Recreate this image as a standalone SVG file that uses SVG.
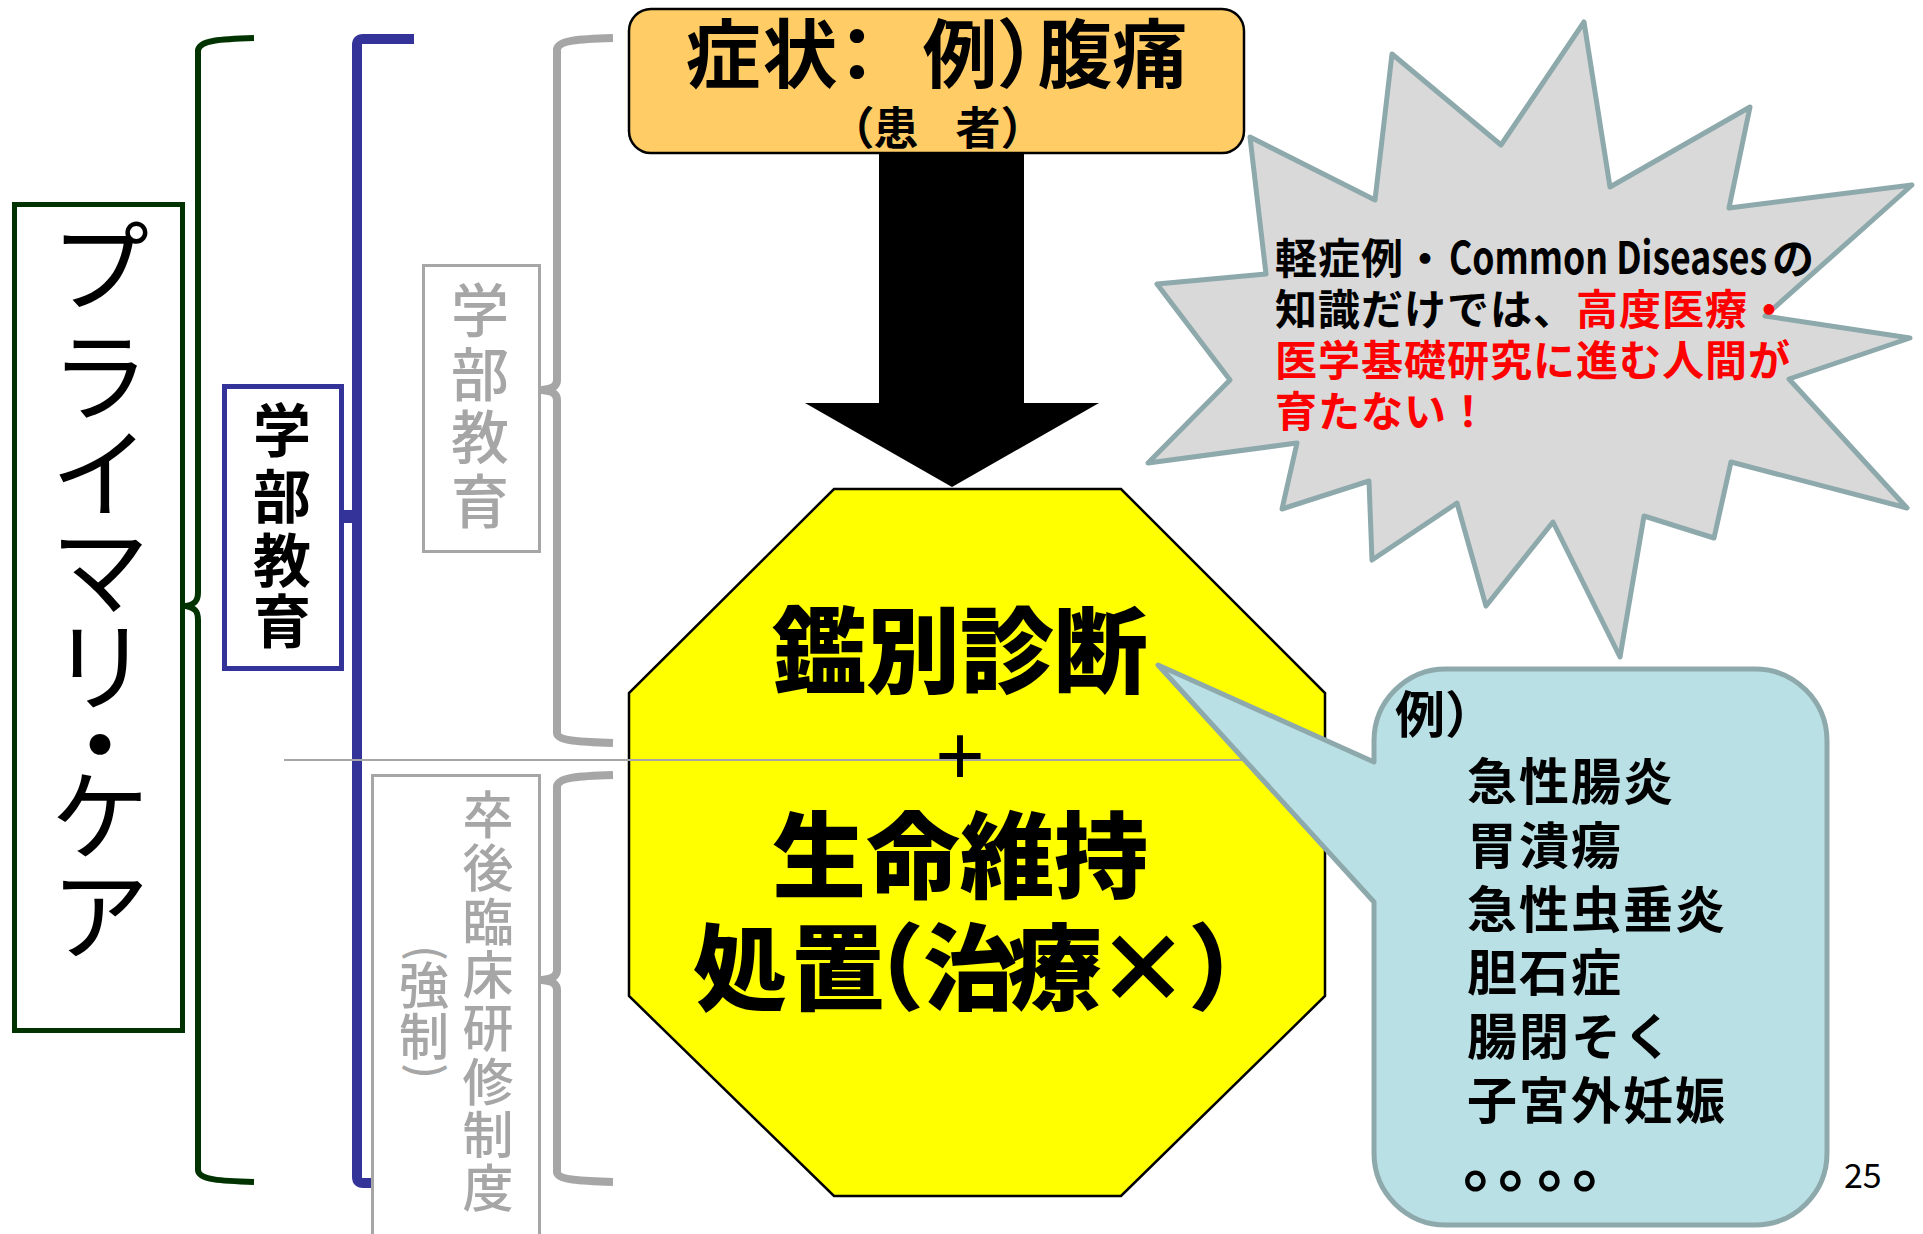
<svg xmlns="http://www.w3.org/2000/svg" width="1923" height="1234" viewBox="0 0 1923 1234">
<style>
text{font-family:'Noto Sans CJK JP','Noto Sans',sans-serif}
.brk{fill:none;stroke-linecap:butt;stroke-linejoin:round}
.gray{stroke:#A6A6A6;stroke-width:8}
.vt{text-anchor:middle}
.blk{fill:#000}
.red{fill:#FF0000}
.oct{font-size:94px;font-weight:900;text-anchor:middle}
.list{font-size:50px;font-weight:700;letter-spacing:2px}
.burst{font-size:42px;font-weight:700;letter-spacing:1px}
</style>
<rect width="1923" height="1234" fill="#FFFFFF"/>

<g id="connectors">
  <path class="brk" d="M254,38 C222,39 198,40 198,51 V592 C198,601 195,604 186,606 C195,608 198,611 198,620 V1170 C198,1180 222,1181 254,1182" stroke="#003300" stroke-width="6"/>
  <path class="brk" d="M414,39 H363 Q357,39 357,45 V1177 Q357,1183 363,1183 H414" stroke="#333399" stroke-width="10"/>
  <rect x="343" y="510" width="14" height="13" fill="#333399"/>
  <path class="brk gray" d="M613,38 C580,39 557,40 557,50 V380 C557,386 553,389 542,390 C553,391 557,394 557,400 V733 C557,741 580,742 613,743"/>
  <path class="brk gray" d="M613,775 C580,776 557,777 557,787 V970 C557,976 553,979 542,980 C553,981 557,984 557,990 V1172 C557,1180 580,1181 613,1182"/>
  <polygon id="arrow" points="879,153 1024,153 1024,403 1099,403 952,487 805,403 879,403" fill="#000000"/>
</g>

<g id="node-primary-care">
  <rect x="14.5" y="204.5" width="168" height="826" fill="#FFFFFF" stroke="#003300" stroke-width="5"/>
  <text class="vt" font-size="98" fill="#000">
    <tspan x="100" y="303">プ</tspan><tspan x="100" y="413">ラ</tspan><tspan x="100" y="510">イ</tspan><tspan x="100" y="607">マ</tspan><tspan x="100" y="703">リ</tspan><tspan x="100" y="781">・</tspan><tspan x="100" y="852">ケ</tspan><tspan x="100" y="952">ア</tspan>
  </text>
</g>

<g id="node-undergrad-blue">
  <rect x="224.5" y="386.5" width="117" height="282" fill="#FFFFFF" stroke="#333399" stroke-width="5"/>
  <text class="vt" font-size="58" font-weight="700" fill="#000">
    <tspan x="282" y="452">学</tspan><tspan x="282" y="518">部</tspan><tspan x="282" y="582">教</tspan><tspan x="282" y="643">育</tspan>
  </text>
</g>

<g id="node-undergrad-gray">
  <rect x="423.5" y="265.5" width="116" height="286" fill="#FFFFFF" stroke="#A6A6A6" stroke-width="3"/>
  <text class="vt" font-size="58" font-weight="500" fill="#A6A6A6">
    <tspan x="480" y="332">学</tspan><tspan x="480" y="396">部</tspan><tspan x="480" y="459">教</tspan><tspan x="480" y="523">育</tspan>
  </text>
</g>

<g id="node-residency">
  <rect x="372.5" y="775.5" width="167" height="470" fill="#FFFFFF" stroke="#A6A6A6" stroke-width="3"/>
  <text class="vt" font-size="51" font-weight="500" fill="#A6A6A6">
    <tspan x="488" y="834">卒</tspan><tspan x="488" y="887">後</tspan><tspan x="488" y="941">臨</tspan><tspan x="488" y="994">床</tspan><tspan x="488" y="1047">研</tspan><tspan x="488" y="1101">修</tspan><tspan x="488" y="1154">制</tspan><tspan x="488" y="1207">度</tspan>
  </text>
  <text class="vt" font-size="44" font-weight="500" fill="#A6A6A6" x="424" y="966" transform="rotate(90 424 953)">(</text>
  <text class="vt" font-size="50" font-weight="500" fill="#A6A6A6">
    <tspan x="424" y="1004">強</tspan><tspan x="424" y="1055">制</tspan>
  </text>
  <text class="vt" font-size="44" font-weight="500" fill="#A6A6A6" x="424" y="1084" transform="rotate(90 424 1071)">)</text>
</g>

<g id="node-symptom">
  <rect x="629" y="9" width="615" height="144" rx="22" ry="22" fill="#FFCC66" stroke="#000000" stroke-width="2.5"/>
  <text font-size="75" font-weight="700" fill="#000" text-anchor="middle" x="723 800 857 908 960 1034 1075 1150" y="82">症状：　例）腹痛</text>
  <text font-size="45" font-weight="700" fill="#000" text-anchor="middle" x="852 896 937 978 1023" y="145">（患　者）</text>
</g>

<g id="node-diagnosis">
  <polygon points="834,489 1121,489 1325,693 1325,996 1121,1196 834,1196 629,996 629,693" fill="#FFFF00" stroke="#000000" stroke-width="2.5"/>
  <text class="oct" x="960" y="686">鑑別診断</text>
  <text class="oct" x="960" y="891">生命維持</text>
  <text font-size="94" font-weight="900" text-anchor="middle" x="740 838 877 970 1055 1143 1235" y="1003">処置（治療×）</text>
</g>

<line x1="284" y1="760" x2="1260" y2="760" stroke="#A6A6A6" stroke-width="2"/>

<g id="node-plus">
  <text font-size="58" font-weight="700" text-anchor="middle" x="960" y="778">＋</text>
</g>

<g id="node-burst">
  <polygon points="1392,54 1501,145 1584,22 1610,187 1750,107 1729,208 1912,185 1765,316 1910,338 1789,379 1907,508 1731,462 1714,538 1644,516 1620,657 1553,522 1486,606 1457,503 1372,560 1369,481 1282,509 1297,443 1148,463 1230,380 1157,284 1266,274 1250,137 1375,200" fill="#D9D9D9" stroke="#8EA9AB" stroke-width="5" stroke-linejoin="round"/>
  <text class="burst blk" x="1275" y="274">軽症例・</text>
  <text font-family="'Liberation Mono',monospace" font-size="45" font-weight="700" fill="#000" x="1449" y="274" textLength="318" lengthAdjust="spacingAndGlyphs">Common Diseases</text>
  <text class="burst blk" x="1772" y="274">の</text>
  <text class="burst" y="325"><tspan x="1275" class="blk">知識だけでは、</tspan><tspan class="red">高度医療・</tspan></text>
  <text class="burst red" x="1275" y="376">医学基礎研究に進む人間が</text>
  <text class="burst red" x="1275" y="427">育たない！</text>
</g>

<g id="node-examples">
  <path d="M1446,669 H1755 A72,72 0 0 1 1827,741 V1153 A72,72 0 0 1 1755,1225 H1446 A72,72 0 0 1 1374,1153 V902 L1158,665 L1374,762 V741 A72,72 0 0 1 1446,669 Z" fill="#B9E0E4" stroke="#8EA9AB" stroke-width="5" stroke-linejoin="round"/>
  <text font-size="50" font-weight="700" x="1395" y="733">例）</text>
  <text class="list" x="1467" y="800">急性腸炎</text>
  <text class="list" x="1467" y="864">胃潰瘍</text>
  <text class="list" x="1467" y="928">急性虫垂炎</text>
  <text class="list" x="1467" y="991">胆石症</text>
  <text class="list" x="1467" y="1055">腸閉そく</text>
  <text class="list" x="1467" y="1119">子宮外妊娠</text>
  <text font-size="64" font-weight="700" x="1463 1498 1537 1572" y="1186">。。。。</text>
</g>

<g id="page-number">
  <text font-family="'Liberation Sans',Arial,sans-serif" font-size="34" fill="#000" x="1844" y="1188">25</text>
</g>
</svg>
